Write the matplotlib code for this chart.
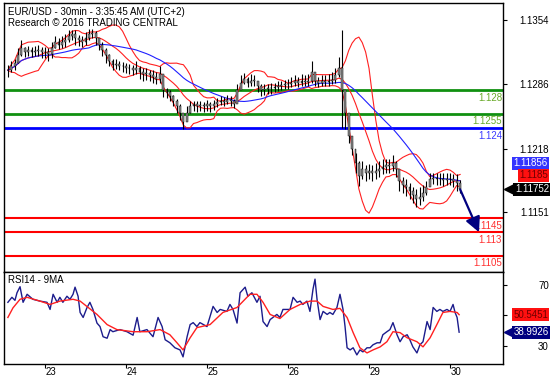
import numpy as np
import pandas as pd
import matplotlib
matplotlib.use("Agg")
import matplotlib.pyplot as plt
from matplotlib import transforms

plt.rcParams['font.family'] = ['Liberation Sans', 'DejaVu Sans']

# hourly bars, hours counted from the start of the 23rd (UTC+2)
hours = np.arange(-11, 124)
close = [1.1301, 1.1305, 1.1309, 1.1317, 1.1324, 1.1320, 1.1322, 1.1320, 1.1321, 1.1322, 1.1320,
         1.1320, 1.1318, 1.1324, 1.1331, 1.1328, 1.1331, 1.1333, 1.1337, 1.1339, 1.1335,
         1.1333, 1.1331, 1.1335, 1.1339, 1.1340, 1.1335, 1.1328, 1.1322, 1.1317, 1.1311,
         1.1307, 1.1308, 1.1306, 1.1305, 1.1303, 1.1303, 1.1301, 1.1303, 1.1299, 1.1297,
         1.1298, 1.1296, 1.1294, 1.1292, 1.1297, 1.1280, 1.1278, 1.1274, 1.1269, 1.1263,
         1.1256, 1.1246, 1.1256, 1.1263, 1.1265, 1.1263, 1.1264, 1.1263, 1.1265, 1.1263,
         1.1265, 1.1267, 1.1269, 1.1268, 1.1270, 1.1269, 1.1265, 1.1280, 1.1288, 1.1292,
         1.1288, 1.1290, 1.1290, 1.1284, 1.1280, 1.1281, 1.1282, 1.1282, 1.1283, 1.1284,
         1.1285, 1.1286, 1.1286, 1.1288, 1.1290, 1.1288, 1.1290, 1.1289, 1.1290, 1.1299,
         1.1290, 1.1288, 1.1290, 1.1289, 1.1290, 1.1291, 1.1296, 1.1303, 1.1280, 1.1256,
         1.1232, 1.1218, 1.1203, 1.1189, 1.1197, 1.1193, 1.1195, 1.1193, 1.1195, 1.1197,
         1.1199, 1.1201, 1.1200, 1.1203, 1.1197, 1.1184, 1.1180, 1.1178, 1.1173, 1.1169,
         1.1165, 1.1167, 1.1171, 1.1178, 1.1186, 1.1187, 1.1186, 1.1186, 1.1185, 1.1186,
         1.1186, 1.1184, 1.1182, 1.11752]
high = [1.1307, 1.1311, 1.1313, 1.1324, 1.1333, 1.1326, 1.1327, 1.1326, 1.1327, 1.1328, 1.1326,
        1.1326, 1.1324, 1.1331, 1.1337, 1.1335, 1.1337, 1.1339, 1.1343, 1.1344, 1.1343,
        1.1338, 1.1337, 1.1341, 1.1345, 1.1345, 1.1342, 1.1335, 1.1331, 1.1324, 1.1318,
        1.1313, 1.1313, 1.1311, 1.1310, 1.1309, 1.1308, 1.1307, 1.1311, 1.1305, 1.1303,
        1.1303, 1.1301, 1.1301, 1.1299, 1.1305, 1.1286, 1.1282, 1.1280, 1.1275, 1.1271,
        1.1265, 1.1256, 1.1263, 1.1269, 1.1269, 1.1269, 1.1269, 1.1268, 1.1270, 1.1268,
        1.1270, 1.1272, 1.1274, 1.1273, 1.1275, 1.1274, 1.1271, 1.1286, 1.1296, 1.1298,
        1.1294, 1.1297, 1.1296, 1.1290, 1.1286, 1.1286, 1.1287, 1.1288, 1.1288, 1.1290,
        1.1290, 1.1291, 1.1292, 1.1294, 1.1296, 1.1294, 1.1297, 1.1296, 1.1297, 1.1311,
        1.1297, 1.1294, 1.1296, 1.1296, 1.1297, 1.1299, 1.1303, 1.1315, 1.1343, 1.1269,
        1.1242, 1.1226, 1.1214, 1.1205, 1.1205, 1.1201, 1.1202, 1.1201, 1.1203, 1.1205,
        1.1207, 1.1207, 1.1207, 1.1211, 1.1205, 1.1193, 1.1188, 1.1186, 1.1182, 1.1178,
        1.1176, 1.1178, 1.1180, 1.1184, 1.1193, 1.1193, 1.1193, 1.1192, 1.1192, 1.1193,
        1.1193, 1.1191, 1.1191, 1.1185]
low = [1.1294, 1.1299, 1.1301, 1.1309, 1.1316, 1.1315, 1.1316, 1.1315, 1.1316, 1.1316, 1.1314,
       1.1314, 1.1311, 1.1314, 1.1324, 1.1323, 1.1325, 1.1326, 1.1331, 1.1333, 1.1328,
       1.1327, 1.1326, 1.1328, 1.1333, 1.1335, 1.1328, 1.1322, 1.1316, 1.1309, 1.1305,
       1.1301, 1.1302, 1.1301, 1.1299, 1.1298, 1.1297, 1.1296, 1.1297, 1.1292, 1.1290,
       1.1291, 1.1290, 1.1288, 1.1286, 1.1288, 1.1273, 1.1272, 1.1269, 1.1263, 1.1256,
       1.1248, 1.1239, 1.1248, 1.1256, 1.1258, 1.1257, 1.1258, 1.1257, 1.1258, 1.1257,
       1.1259, 1.1262, 1.1264, 1.1263, 1.1265, 1.1263, 1.1261, 1.1271, 1.1282, 1.1286,
       1.1283, 1.1284, 1.1284, 1.1278, 1.1274, 1.1275, 1.1276, 1.1276, 1.1278, 1.1279,
       1.1280, 1.1281, 1.1281, 1.1283, 1.1284, 1.1283, 1.1284, 1.1284, 1.1284, 1.1288,
       1.1284, 1.1283, 1.1284, 1.1284, 1.1284, 1.1286, 1.1288, 1.1294, 1.1240, 1.1239,
       1.1224, 1.1211, 1.1193, 1.1179, 1.1186, 1.1184, 1.1186, 1.1184, 1.1186, 1.1188,
       1.1191, 1.1193, 1.1193, 1.1195, 1.1188, 1.1173, 1.1171, 1.1168, 1.1165, 1.1161,
       1.1157, 1.1159, 1.1163, 1.1169, 1.1180, 1.1181, 1.1180, 1.1180, 1.1179, 1.1180,
       1.1180, 1.1178, 1.1173, 1.1171]

# RSI14 and its 9 period average
rsi_hours = [-11.0, -9.8, -8.9, -8.3, -7.4, -6.5, -5.3, -3.6, -1.5, 0.6, 1.5, 2.4, 3.6, 4.4, 5.3,
             6.5, 7.4, 8.3, 8.9, 9.8, 10.4, 11.3, 12.4, 13.3, 14.2, 15.4, 16.3, 17.2, 18.4, 19.3,
             20.1, 22.2, 24.3, 26.1, 27.3, 28.1, 30.2, 32.0, 33.5, 34.7, 35.6, 37.0, 38.5, 40.0,
             40.9, 42.1, 43.0, 43.9, 45.0, 45.9, 48.0, 49.8, 51.0, 51.9, 53.9, 54.8, 55.7, 56.9,
             57.8, 59.3, 60.1, 61.3, 62.8, 63.7, 64.6, 65.8, 66.7, 68.7, 69.6, 70.5, 72.6, 73.5,
             74.7, 75.6, 76.4, 77.6, 78.5, 79.4, 80.0, 80.6, 81.5, 82.4, 83.6, 84.4, 85.3, 86.5,
             87.4, 88.3, 88.9, 89.5, 90.4, 91.3, 92.4, 93.3, 94.2, 95.4, 96.3, 97.2, 98.4, 99.3,
             100.1, 101.3, 102.2, 103.1, 104.3, 105.2, 106.1, 107.3, 108.1, 109.0, 110.2, 111.1,
             112.0, 113.2, 114.1, 115.0, 116.1, 117.0, 117.9, 119.1, 120.0, 120.9, 121.5, 122.1,
             122.7]
rsi = [58.7, 62, 60, 65, 69, 58.7, 64, 60.7, 59.5, 58.7, 54, 64, 58.7, 62, 58.7,
       62.7, 60.7, 64, 68.7, 62.7, 52, 48.7, 55, 58.7, 54, 45, 42.7, 36, 35, 40.7,
       39.3, 40.7, 39.3, 37, 48.7, 39.3, 40.7, 36, 48.7, 42.7, 34, 32, 28.7, 27.3,
       22.7, 36, 44, 45.3, 42.7, 45.3, 42.7, 56, 52, 54, 52.7, 57.3, 54, 45,
       65, 68.7, 62.7, 65, 58.7, 62.7, 46, 42.7, 47.3, 50.7, 48.7, 54, 54, 62,
       58.7, 59.5, 57.3, 59.5, 52.7, 67.3, 74, 60.7, 47.3, 52.7, 50.7, 52, 50.7, 55.3,
       64, 54, 42.7, 28.7, 27.3, 28.7, 24, 27.3, 26, 28.7, 28.7, 30.7, 32, 32,
       37.3, 39.3, 40.7, 45.3, 37.3, 32.7, 36, 37.3, 34, 29.3, 25.3, 30.7,
       32.7, 46, 40.7, 55.3, 52.7, 54, 52.7, 54, 52.7, 57.3, 52, 48.7,
       38.9926]
ma_hours = [-11.0, -9.5, -7.4, -5.3, -1.5, 1.5, 4.4, 8.3, 10.4, 12.4, 15.4, 18.4, 21.3, 26.1,
            30.2, 34.1, 37.0, 39.1, 40.9, 43.0, 45.0, 48.9, 52.7, 56.9, 60.7, 62.8, 64.6, 66.7,
            69.6, 72.6, 75.6, 78.5, 80.6, 82.4, 85.3, 87.4, 89.5, 91.3, 93.3, 95.4, 97.2, 99.3,
            101.3, 103.1, 105.2, 107.3, 110.2, 112.0, 114.1, 116.1, 117.9, 120.0, 122.1, 122.7]
rsi_ma = [48.7, 55, 60.7, 62, 59.5, 57.3, 59.5, 60.7, 59.5, 56, 50.7, 44, 40.7, 39.3,
          39.3, 40.7, 37.3, 32, 27.3, 35.3, 42, 44, 52, 55.3, 64, 64, 58.7, 50.7,
          48, 54, 57.3, 59.5, 59.5, 56, 54, 54.7, 48.7, 38.7, 28.7, 25.3, 27.3, 29.3,
          32.7, 39.3, 38.7, 35.3, 32.7, 29.3, 35.3, 44, 52, 52.7, 52, 50.5451]

green_levels = [1.128, 1.1255]
blue_levels = [1.124]
red_levels = [1.1145, 1.113, 1.1105]
level_labels = {1.128: "1.128", 1.1255: "1.1255", 1.124: "1.124",
                1.1145: "1.1145", 1.113: "1.113", 1.1105: "1.1105"}
target = 1.113
ma_value = 1.11856
mid_value = 1.1185
price_ticks = [1.1151, 1.1218, 1.1286, 1.1354]
day_hours = [0, 24, 48, 72, 96, 120]
day_labels = ["23", "24", "25", "26", "29", "30"]

s = pd.Series(close)
mid = s.rolling(10, min_periods=1).mean()
sd = s.rolling(10, min_periods=1).std(ddof=0)
upper = mid + 2 * sd
lower = mid - 2 * sd
ma_long = s.rolling(25, min_periods=1).mean()

fig = plt.figure(figsize=(5.58, 3.79), dpi=100)
ax = fig.add_axes([4 / 558, 1 - 272 / 379, 499 / 558, 269 / 379])
ax2 = fig.add_axes([4 / 558, 1 - 364 / 379, 499 / 558, 92 / 379])


def px(dx, dy):
    return transforms.ScaledTranslation(dx / 100, dy / 100, fig.dpi_scale_trans)


for a in (ax, ax2):
    for sp in a.spines.values():
        sp.set_linewidth(1)
        sp.set_color("black")
    a.set_xlim(-12.15, 135.7)

ax.set_ylim(1.1088, 1.1372)
ax2.set_ylim(18, 78.7)

# levels
for lv in green_levels:
    ax.axhline(lv, color="#109010", lw=2, zorder=1)
for lv in blue_levels:
    ax.axhline(lv, color="#0000ff", lw=2, zorder=1)
for lv in red_levels:
    ax.axhline(lv, color="#ff0000", lw=1.5, zorder=1)
lab_col = {1.128: "#6aaa2a", 1.1255: "#6aaa2a", 1.124: "#3a3aff",
           1.1145: "#ff3030", 1.113: "#ff3030", 1.1105: "#ff3030"}
for lv, txt in level_labels.items():
    ax.text(0.998, lv, txt, transform=ax.get_yaxis_transform() + px(0, -2.5),
            ha="right", va="top", fontsize=7, color=lab_col[lv], zorder=2)

# indicators
ax.plot(hours, upper, color="#ff2020", lw=0.8, zorder=3)
ax.plot(hours, lower, color="#ff2020", lw=0.8, zorder=3)
ax.plot(hours, mid, color="#ff2020", lw=0.8, zorder=3)
ax.plot(hours, ma_long, color="#2020ff", lw=0.8, zorder=3)

# candles
opens = [close[0]] + close[:-1]
ax.vlines(hours, low, high, color="black", lw=0.8, zorder=4)
bottoms = np.minimum(opens, close)
heights = np.abs(np.array(close) - np.array(opens))
ax.bar(hours, np.maximum(heights, 0.00003), bottom=bottoms, width=0.55,
       color="#8a8a8a", edgecolor="black", lw=0.3, zorder=5)

# projection arrow
ax.annotate("", xy=(hours[-1] + 5.6, target), xytext=(hours[-1], close[-1]),
            arrowprops=dict(arrowstyle="-|>,head_length=0.9,head_width=0.45",
                            color="#000080", lw=1.6, shrinkA=0, shrinkB=0,
                            mutation_scale=10), zorder=6)

# price axis
ax.yaxis.tick_right()
ax.set_yticks(price_ticks)
ax.set_yticklabels([f"{v:.4f}" for v in price_ticks])
ax.tick_params(axis="y", direction="out", length=3, width=0.8, pad=30, labelsize=7)
for t in ax.get_yticklabels():
    t.set_horizontalalignment("right")
ax.set_xticks([])

# value boxes
ytr = ax.get_yaxis_transform()
ax.text(1.0, close[-1], f"{ma_value:.5f}", transform=ytr + px(45, 26), ha="right",
        va="center", fontsize=7, color="white", clip_on=False,
        bbox=dict(boxstyle="square,pad=0.15", fc="#3434ff", ec="none"))
ax.text(1.0, close[-1], f"{mid_value:.4f}", transform=ytr + px(45, 14), ha="right",
        va="center", fontsize=7, color="#700000", clip_on=False,
        bbox=dict(boxstyle="square,pad=0.15", fc="#ff1010", ec="none"))
ax.text(1.0, close[-1], f"{close[-1]:.5f}", transform=ytr + px(46, 0), ha="right",
        va="center", fontsize=7, color="white", clip_on=False,
        bbox=dict(boxstyle="square,pad=0.15", fc="black", ec="none"))
ax.plot([1.0], [close[-1]], transform=ytr + px(6, 0), marker="<", ms=7, color="black",
        clip_on=False)

# title
fig.text(8 / 558, 1 - 12 / 379, "EUR/USD - 30min - 3:35:45 AM (UTC+2)", fontsize=7,
         va="center", ha="left")
fig.text(8 / 558, 1 - 23 / 379, "Research \u00a9 2016 TRADING CENTRAL", fontsize=7,
         va="center", ha="left")

# RSI panel
ax2.plot(rsi_hours, rsi, color="#1c1c8c", lw=1)
ax2.plot(ma_hours, rsi_ma, color="#ff2020", lw=1)
ax2.text(8 / 558, 1 - 280 / 379, "RSI14 - 9MA", transform=fig.transFigure, fontsize=7,
         va="center", ha="left")
ax2.yaxis.tick_right()
ax2.set_yticks([30, 50, 70])
ax2.set_yticklabels(["30", "", "70"])
ax2.tick_params(axis="y", direction="out", length=3, width=0.8, pad=30, labelsize=7)
for t in ax2.get_yticklabels():
    t.set_horizontalalignment("right")
ax2.set_xticks(day_hours)
ax2.set_xticklabels(day_labels)
ax2.tick_params(axis="x", direction="out", length=3, width=0.8, pad=-1, labelsize=7)
for t in ax2.get_xticklabels():
    t.set_horizontalalignment("left")
    t.set_transform(t.get_transform() + px(1, 0))

rtr = ax2.get_yaxis_transform()
ax2.text(1.0, rsi_ma[-1], f"{rsi_ma[-1]:.4f}", transform=rtr + px(45, 0), ha="right",
         va="center", fontsize=7, color="#700000", clip_on=False,
         bbox=dict(boxstyle="square,pad=0.15", fc="#ff1010", ec="none"))
ax2.text(1.0, rsi[-1], f"{rsi[-1]:.4f}", transform=rtr + px(46, 0), ha="right",
         va="center", fontsize=7, color="white", clip_on=False,
         bbox=dict(boxstyle="square,pad=0.15", fc="#000080", ec="none"))
ax2.plot([1.0], [rsi[-1]], transform=rtr + px(6, 0), marker="<", ms=7, color="#000080",
         clip_on=False)

fig.savefig("out.png", dpi=100)
